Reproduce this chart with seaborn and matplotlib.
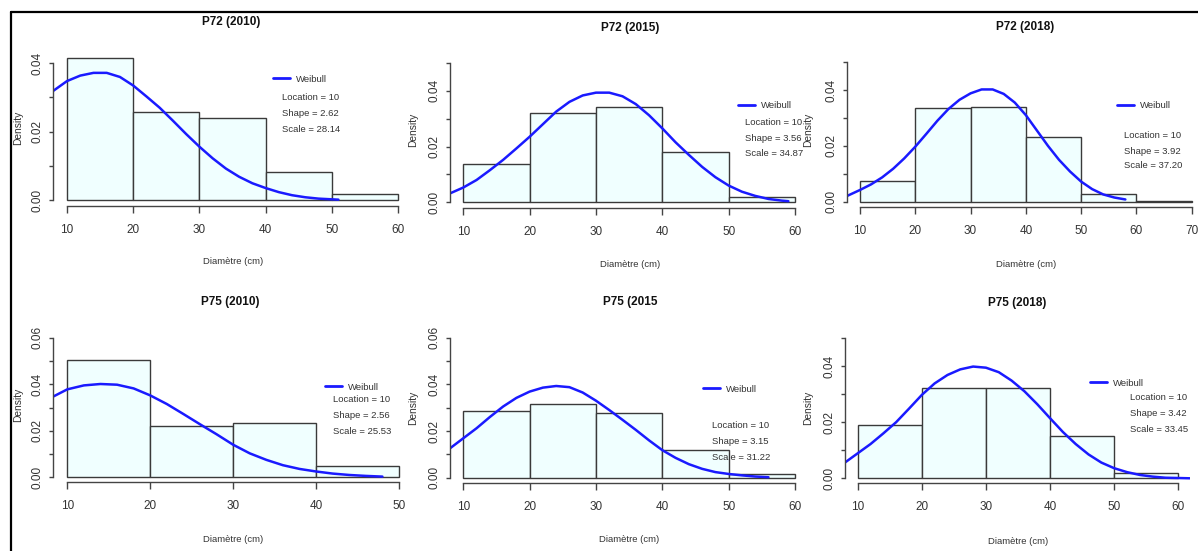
import numpy as np
import pandas as pd
import matplotlib
matplotlib.use("Agg")
import matplotlib.pyplot as plt
import seaborn as sns
from matplotlib import font_manager
from matplotlib.lines import Line2D

# ---------------- data ----------------
titles = ["P72 (2010)", "P72 (2015)", "P72 (2018)", "P75 (2010)", "P75 (2015", "P75 (2018)"]

edges_p72_2010 = [10, 20, 30, 40, 50, 60]
dens_p72_2010 = [0.0415, 0.0258, 0.0239, 0.0083, 0.0017]
edges_p72_2015 = [10, 20, 30, 40, 50, 60]
dens_p72_2015 = [0.0136, 0.0319, 0.0341, 0.0181, 0.0020]
edges_p72_2018 = [10, 20, 30, 40, 50, 60, 70]
dens_p72_2018 = [0.0074, 0.0334, 0.0340, 0.0230, 0.0026, 0.0003]
edges_p75_2010 = [10, 20, 30, 40, 50]
dens_p75_2010 = [0.0505, 0.0220, 0.0235, 0.0048]
edges_p75_2015 = [10, 20, 30, 40, 50, 60]
dens_p75_2015 = [0.0287, 0.0314, 0.0276, 0.0119, 0.0014]
edges_p75_2018 = [10, 20, 30, 40, 50, 60]
dens_p75_2018 = [0.0191, 0.0323, 0.0323, 0.0151, 0.0020]

curve_x_p72_2010 = [7.9, 10, 12, 14, 16, 18, 20, 22, 24, 26, 28, 30, 32, 34, 36, 38, 40, 42, 44, 46, 48, 50, 51]
curve_y_p72_2010 = [0.0319, 0.0348, 0.0364, 0.0372, 0.0372, 0.0360, 0.0335, 0.0303, 0.0270, 0.0232, 0.0193, 0.0156,
                    0.0122, 0.0092, 0.0068, 0.0049, 0.0035, 0.0023, 0.0014, 0.0008, 0.0004, 0.0002, 0.0001]
curve_x_p72_2015 = [8, 10, 12, 14, 16, 18, 20, 22, 24, 26, 28, 30, 32, 34, 36, 38, 40, 42, 44, 46, 48, 50, 52, 54, 56, 58, 59]
curve_y_p72_2015 = [0.0032, 0.0053, 0.0080, 0.0115, 0.0152, 0.0193, 0.0235, 0.0280, 0.0325, 0.0360, 0.0383, 0.0393,
                    0.0393, 0.0380, 0.0352, 0.0312, 0.0265, 0.0215, 0.0170, 0.0127, 0.0090, 0.0060, 0.0038, 0.0023,
                    0.0012, 0.0006, 0.0004]
curve_x_p72_2018 = [7.6, 10, 12, 14, 16, 18, 20, 22, 24, 26, 28, 30, 32, 34, 36, 38, 40, 42, 44, 46, 48, 50, 52, 54, 56, 58]
curve_y_p72_2018 = [0.0020, 0.0042, 0.0062, 0.0087, 0.0118, 0.0155, 0.0197, 0.0243, 0.0290, 0.0332, 0.0365, 0.0388,
                    0.0402, 0.0402, 0.0386, 0.0355, 0.0310, 0.0255, 0.0200, 0.0150, 0.0108, 0.0072, 0.0045, 0.0026,
                    0.0015, 0.0008]
curve_x_p75_2010 = [8.3, 10, 12, 14, 16, 18, 20, 22, 24, 26, 28, 30, 32, 34, 36, 38, 40, 42, 44, 46, 48]
curve_y_p75_2010 = [0.0347, 0.0378, 0.0395, 0.0401, 0.0398, 0.0382, 0.0352, 0.0315, 0.0272, 0.0228, 0.0185, 0.0140,
                    0.0103, 0.0075, 0.0052, 0.0036, 0.0025, 0.0016, 0.0010, 0.0006, 0.0003]
curve_x_p75_2015 = [8, 10, 12, 14, 16, 18, 20, 22, 24, 26, 28, 30, 32, 34, 36, 38, 40, 42, 44, 46, 48, 50, 52, 54, 56]
curve_y_p75_2015 = [0.0126, 0.0169, 0.0212, 0.0260, 0.0305, 0.0342, 0.0369, 0.0386, 0.0393, 0.0388, 0.0365, 0.0330,
                    0.0290, 0.0248, 0.0205, 0.0160, 0.0118, 0.0085, 0.0058, 0.0038, 0.0024, 0.0016, 0.0010, 0.0005,
                    0.0002]
curve_x_p75_2018 = [8, 10, 12, 14, 16, 18, 20, 22, 24, 26, 28, 30, 32, 34, 36, 38, 40, 42, 44, 46, 48, 50, 52, 54, 56, 58, 60, 61.8]
curve_y_p75_2018 = [0.0056, 0.0089, 0.0122, 0.0160, 0.0200, 0.0248, 0.0297, 0.0338, 0.0368, 0.0388, 0.0398, 0.0394,
                    0.0378, 0.0348, 0.0310, 0.0264, 0.0214, 0.0165, 0.0122, 0.0085, 0.0056, 0.0036, 0.0022, 0.0012,
                    0.0006, 0.0002, 0.0001, 0.0]

params_location = ["10", "10", "10", "10", "10", "10"]
params_shape = ["2.62", "3.56", "3.92", "2.56", "3.15", "3.42"]
params_scale = ["28.14", "34.87", "37.20", "25.53", "31.22", "33.45"]

all_edges = [edges_p72_2010, edges_p72_2015, edges_p72_2018, edges_p75_2010, edges_p75_2015, edges_p75_2018]
all_dens = [dens_p72_2010, dens_p72_2015, dens_p72_2018, dens_p75_2010, dens_p75_2015, dens_p75_2018]
all_cx = [curve_x_p72_2010, curve_x_p72_2015, curve_x_p72_2018, curve_x_p75_2010, curve_x_p75_2015, curve_x_p75_2018]
all_cy = [curve_y_p72_2010, curve_y_p72_2015, curve_y_p72_2018, curve_y_p75_2010, curve_y_p75_2015, curve_y_p75_2018]

# ---------------- layout (pixels) ----------------
W, H = 1198, 551
# (x_a, px_a, x_b, px_b, py_zero, ytick_val, py_ytick, py_axis, xlim, ymax_tick)
layout = [
    (10, 67.0, 60, 398.0, 200.0, 0.04, 63.3, 206.0, (7.9, 61), 0.04),
    (10, 463.3, 60, 795.0, 202.3, 0.04, 90.7, 208.3, (8.0, 61), 0.05),
    (10, 860.0, 70, 1191.7, 201.7, 0.04, 90.0, 207.3, (7.6, 71), 0.05),
    (10, 67.3, 50, 399.0, 477.3, 0.06, 337.7, 481.7, (8.3, 51), 0.06),
    (10, 463.3, 60, 795.0, 477.7, 0.06, 337.7, 483.3, (8.0, 61), 0.06),
    (10, 857.7, 60, 1178.3, 478.3, 0.04, 366.0, 483.3, (8.0, 61.8), 0.05),
]
title_pos = [(231, 22), (630, 28), (1025, 27), (230, 302), (630, 302), (1017, 303)]
xlabel_pos = [(233, 262), (630, 264), (1026, 264), (233, 540), (629, 540), (1018, 542)]
ylabel_pos = [(18, 128), (413, 130), (808, 130), (18, 405), (413, 408), (808, 408)]
legend_pos = [(273, 79), (738, 106), (1117, 106), (325, 387), (703, 389), (1090, 383)]
param_pos = [(282, 98), (745, 123), (1124, 136), (333, 400), (712, 425), (1130, 397)]
param_step = [15.5, 15.5, 15, 16, 16, 16]

sns.set_theme(style="white")
plt.rcParams["font.family"] = ["Liberation Sans", "DejaVu Sans"]
fs_tick = 8.5
fs_lab = 6.8
fs_title = 8.5
fs_leg = 6.8
txtc = "#333333"
axc = "#444444"

fig = plt.figure(figsize=(W / 100, H / 100), dpi=100)
fig.patch.set_facecolor("white")


def fx(px):
    return px / W


def fy(py):
    return 1 - py / H


for i in range(6):
    xa, pxa, xb, pxb, py0, yv, pyv, pyax, xlim, ymaxt = layout[i]
    s = (pxb - pxa) / (xb - xa)
    t = (py0 - pyv) / yv
    left_px = pxa - (xa - xlim[0]) * s
    right_px = pxa + (xlim[1] - xa) * s
    ylo = -(pyax - py0) / t
    yhi = ymaxt + 0.006
    top_px = py0 - yhi * t
    ax = fig.add_axes([fx(left_px), fy(pyax), (right_px - left_px) / W, (pyax - top_px) / H])
    ax.set_facecolor("none")

    edges = all_edges[i]
    dens = all_dens[i]
    centers = [(edges[k] + edges[k + 1]) / 2 for k in range(len(dens))]
    df = pd.DataFrame({"x": centers, "w": dens})
    sns.histplot(data=df, x="x", weights="w", bins=edges, stat="count", ax=ax,
                 color="#F0FFFF", edgecolor="#3a3a3a", linewidth=1.0, alpha=1.0)
    cdf = pd.DataFrame({"x": all_cx[i], "y": all_cy[i]})
    sns.lineplot(data=cdf, x="x", y="y", ax=ax, color="#1a1aff", linewidth=1.8, sort=False)

    ax.set_xlim(*xlim)
    ax.set_ylim(ylo, yhi)
    for sp in ["top", "right"]:
        ax.spines[sp].set_visible(False)
    for sp in ["left", "bottom"]:
        ax.spines[sp].set_color(axc)
        ax.spines[sp].set_linewidth(1.0)
    xt = list(range(10, edges[-1] + 1, 10))
    ax.spines["bottom"].set_bounds(xt[0], xt[-1])
    ax.spines["left"].set_bounds(0, ymaxt)
    ax.set_xticks(xt)
    ax.set_xticklabels([str(v) for v in xt])
    yt = [round(0.01 * k, 2) for k in range(int(round(ymaxt / 0.01)) + 1)]
    ax.set_yticks(yt)
    ax.set_yticklabels([f"{v:.2f}" if k % 2 == 0 else "" for k, v in enumerate(yt)])
    ax.tick_params(axis="x", length=5, width=1, color=axc, pad=8, labelsize=fs_tick, labelcolor=txtc,
                   bottom=True, left=False)
    ax.tick_params(axis="y", length=3, width=1, color=axc, pad=4, labelsize=fs_tick, labelcolor=txtc,
                   left=True, labelrotation=90)
    for lbl in ax.get_yticklabels():
        lbl.set_va("center")
    ax.grid(False)

    # labels
    fig.text(fx(title_pos[i][0]), fy(title_pos[i][1]), titles[i], fontsize=fs_title, fontweight="bold",
             color="#111111", ha="center", va="center")
    ax.set_xlabel("Diamètre (cm)", fontsize=fs_lab, color=txtc)
    ax.xaxis.set_label_coords(fx(xlabel_pos[i][0]), fy(xlabel_pos[i][1]), transform=fig.transFigure)
    ax.xaxis.label.set_va("center")
    ax.set_ylabel("Density", fontsize=fs_lab + 0.6, color=txtc)
    ax.yaxis.set_label_coords(fx(ylabel_pos[i][0]), fy(ylabel_pos[i][1]), transform=fig.transFigure)
    ax.yaxis.label.set_va("center")

    # legend
    h = Line2D([], [], color="#1a1aff", linewidth=2.0)
    ax.legend([h], ["Weibull"], loc="center left", bbox_to_anchor=(fx(legend_pos[i][0]), fy(legend_pos[i][1])),
              bbox_transform=fig.transFigure, frameon=False, fontsize=fs_leg, handlelength=1.8,
              handletextpad=0.6, borderpad=0, borderaxespad=0, labelcolor=txtc)
    px, py = param_pos[i]
    st = param_step[i]
    for k, txt in enumerate([f"Location = {params_location[i]}", f"Shape = {params_shape[i]}",
                             f"Scale = {params_scale[i]}"]):
        fig.text(fx(px), fy(py + k * st), txt, fontsize=fs_leg, color=txtc, ha="left", va="center")

# outer frame lines (left and top)
fig.add_artist(Line2D([fx(11), fx(11)], [fy(12), fy(551)], color="black", linewidth=1.6,
                      transform=fig.transFigure))
fig.add_artist(Line2D([fx(11), fx(1198)], [fy(12), fy(12)], color="black", linewidth=1.6,
                      transform=fig.transFigure))

fig.savefig("out.png", dpi=100, facecolor="white")
